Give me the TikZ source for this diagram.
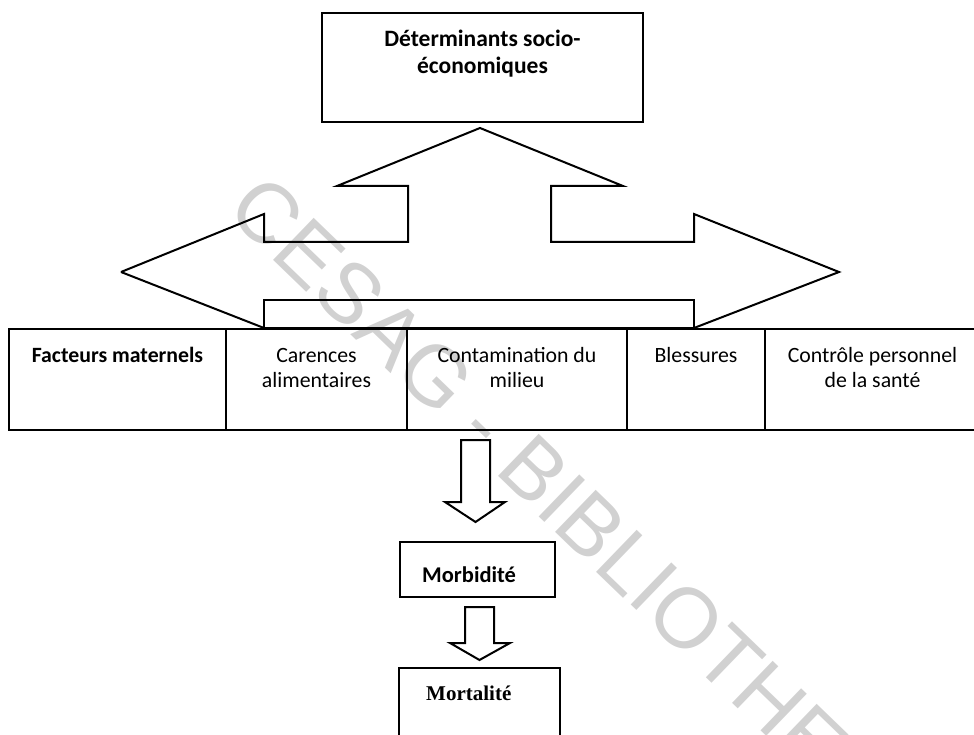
\documentclass[tikz,border=0pt]{standalone}
\usepackage{fontspec}
\setmainfont{Carlito}
\newfontfamily\wmfont{Liberation Sans}
\newfontfamily\timesfont{Liberation Serif}
\begin{document}
\begin{tikzpicture}[x=1pt,y=-1pt,
  box/.style={draw, line width=2.2pt, inner sep=0pt, outer sep=0pt},
  cellbox/.style={draw, line width=2.8pt, inner sep=0pt, outer sep=0pt, anchor=north west, minimum height=101},
  arrowline/.style={draw, line width=2pt, line join=miter},
  celltext/.style={font=\fontsize{21.8}{25}\selectfont, align=center, anchor=base, inner sep=0pt},
  watermark/.style={rotate=-44, text=black!18, font=\wmfont\fontsize{85}{85}\selectfont, inner sep=0pt}
 ]
\useasboundingbox (0,0) rectangle (974,735);

% watermark
\node[watermark] (wm) at (600,545) {CESAG - BIBLIOTHEQUE};

% top box
\node[box, minimum width=321, minimum height=109, anchor=north west] (det) at (322,13) {};
\node[font=\bfseries\fontsize{23.5}{27}\selectfont, align=center, anchor=base, inner sep=0pt] (dettext) at (482.5,74) {Déterminants socio-\\économiques};

% combined arrow
\draw[arrowline] (121,272) -- (264,214) -- (264,242) -- (408,242) -- (408,186) -- (337,186)
  -- (480,128) -- (623,186) -- (551,186) -- (551,242) -- (694,242) -- (694,214)
  -- (839,272) -- (694,328);
\draw[arrowline] (121,272) -- (264,328);
\draw[arrowline] (264,328) rectangle (694,300);

% table
\node[cellbox, minimum width=217] (c1) at (9,329) {};
\node[cellbox, minimum width=181] (c2) at (c1.north east) {};
\node[cellbox, minimum width=220] (c3) at (c2.north east) {};
\node[cellbox, minimum width=138] (c4) at (c3.north east) {};
\node[cellbox, draw=none, minimum width=215] (c5) at (c4.north east) {};
\draw[line width=2.8pt] (c5.north west) -- (c5.north east);
\draw[line width=2.8pt] (c5.south west) -- (c5.south east);

\node[celltext, font=\bfseries\fontsize{21.8}{25}\selectfont] (t1) at ([yshift=-33pt]c1.north) {Facteurs maternels};
\node[celltext] (t2) at ([yshift=-58pt]c2.north) {Carences\\alimentaires};
\node[celltext] (t3) at ([yshift=-58pt]c3.north) {Contamination du\\milieu};
\node[celltext] (t4) at ([yshift=-33pt]c4.north) {Blessures};
\node[celltext] (t5) at ([yshift=-58pt]c5.north) {Contrôle personnel\\de la santé};

% down arrow 1
\draw[arrowline] (461,440) -- (490,440) -- (490,502) -- (505,502) -- (475.5,522)
  -- (445,502) -- (461,502) -- cycle;

% morbidite
\node[box, minimum width=155, minimum height=55, anchor=north west] (morb) at (400,542) {};
\node[font=\bfseries\fontsize{22.5}{26}\selectfont, anchor=base west, inner sep=0pt] (morbtext) at (422,582) {Morbidité};

% down arrow 2
\draw[arrowline] (465,607) -- (494,607) -- (494,643) -- (510,643) -- (479.5,660)
  -- (450,643) -- (465,643) -- cycle;

% mortalite
\node[box, minimum width=161, minimum height=110, anchor=north west] (mort) at (399,668) {};
\node[font=\timesfont\bfseries\fontsize{21}{25}\selectfont, anchor=base west, inner sep=0pt] (morttext) at (426,700) {Mortalité};
\end{tikzpicture}
\end{document}
